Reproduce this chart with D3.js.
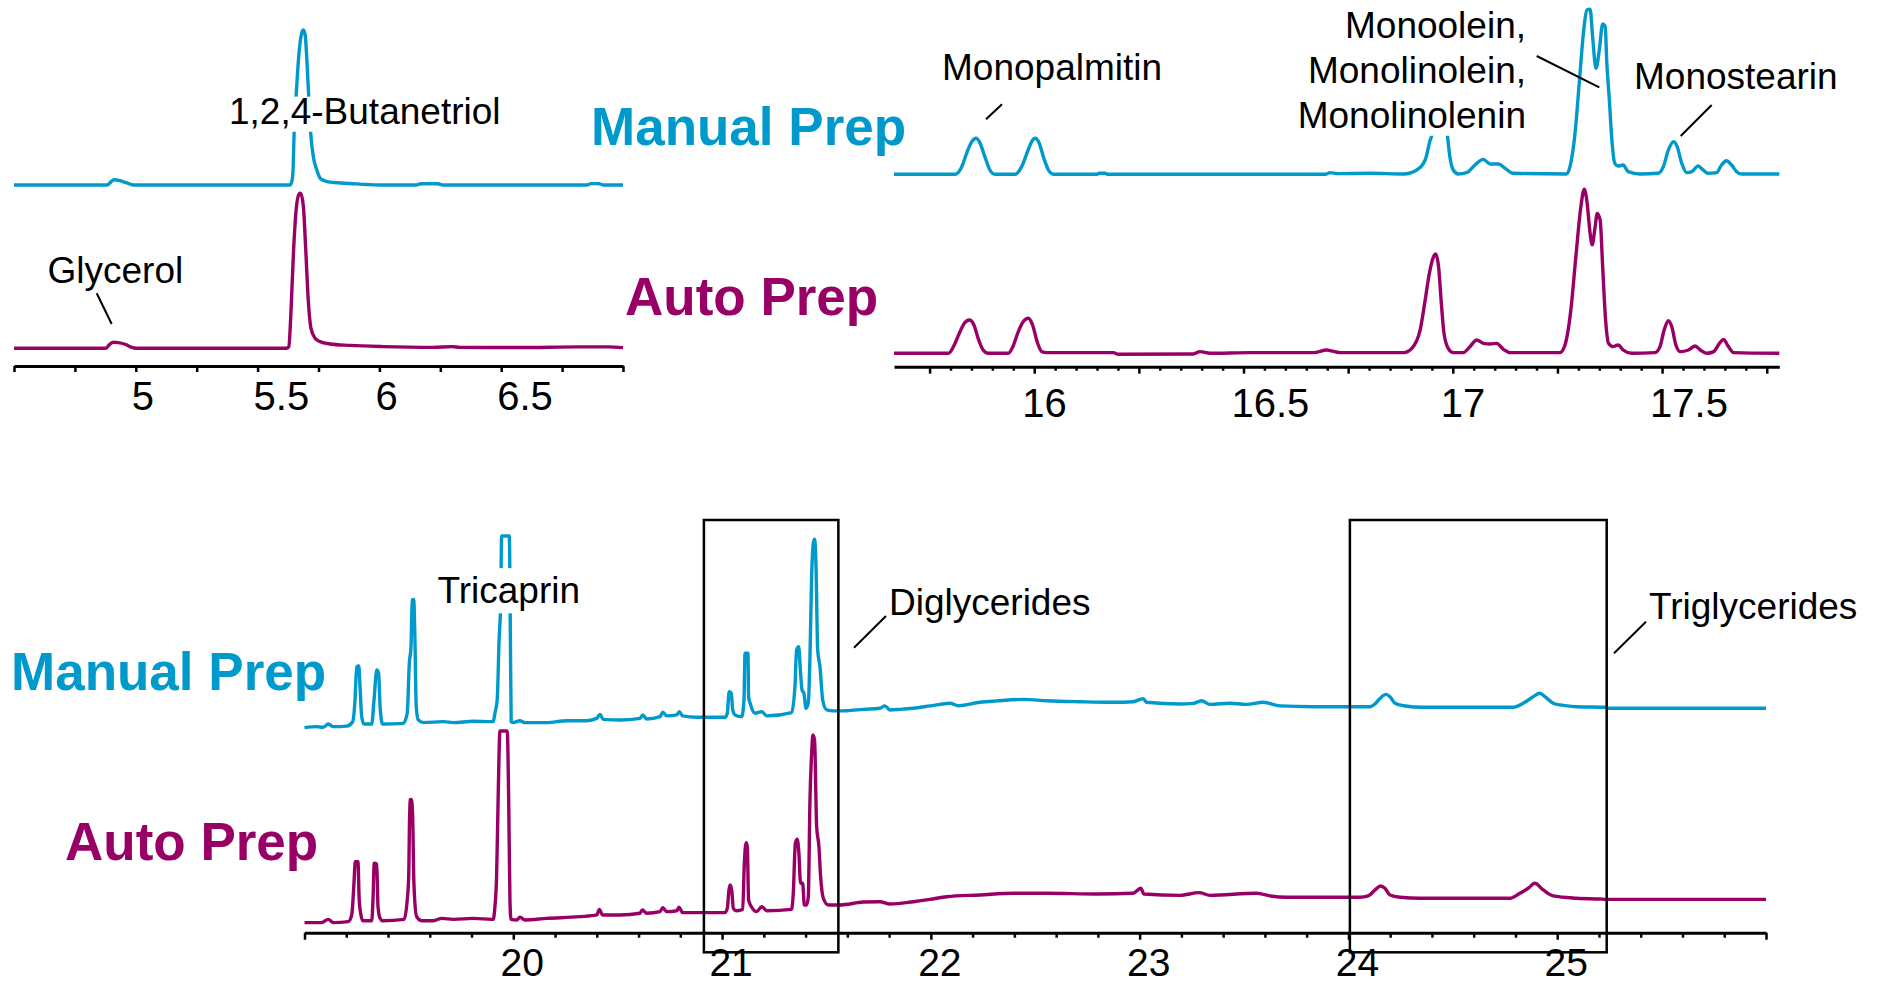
<!DOCTYPE html>
<html>
<head>
<meta charset="utf-8">
<script src="https://cdn.jsdelivr.net/npm/d3@7"></script>
<style>
  html, body { margin: 0; padding: 0; background: #fff; }
  svg { display: block; font-family: "Liberation Sans", Arial, Helvetica, sans-serif; }
</style>
</head>
<body>
<svg id="chart" width="1879" height="985"></svg>
<script>
// ---------------------------------------------------------------
// GC-FID traces: [retention time (min), relative response (0-100)]
// ---------------------------------------------------------------

// Glycerol / 1,2,4-butanetriol window
const manualEarly = [
  [4.50, 0], [4.883, 0], [4.897, 1.9], [4.910, 3.4], [4.935, 2.8], [4.963, 1.3], [4.990, 0],
  [5.632, 0], [5.640, 2], [5.645, 8], [5.650, 34], [5.658, 57], [5.670, 85], [5.681, 98],
  [5.688, 100], [5.695, 97], [5.708, 63], [5.718, 33.5], [5.729, 18], [5.743, 9.7],
  [5.756, 4.5], [5.777, 2.6], [5.811, 1.6], [5.879, 1.0], [5.948, 0.3], [6.00, 0],
  [6.15, 0], [6.17, 0.8], [6.24, 0.8], [6.26, 0], [6.85, 0], [6.87, 0.9], [6.90, 0.9],
  [6.92, 0], [7.00, 0]
];
const autoEarly = [
  [4.50, 0], [4.878, 0], [4.890, 2.2], [4.908, 3.9], [4.928, 3.7], [4.956, 2.6], [4.983, 0.6],
  [5.000, 0], [5.619, 0], [5.628, 1], [5.636, 20], [5.647, 61], [5.658, 89], [5.670, 99.4],
  [5.677, 100], [5.688, 91.4], [5.697, 65.6], [5.708, 31], [5.719, 13], [5.736, 6.5],
  [5.756, 4.3], [5.797, 2.8], [5.879, 1.9], [6.015, 1.1], [6.22, 0.6], [6.30, 1.1],
  [6.33, 0.6], [6.577, 0.5], [6.82, 0.9], [6.94, 0.9], [7.00, 0.4]
];

// Monoglyceride window
const manualMono = [
  [15.665, 0], [15.811, 0], [15.827, 4.6], [15.840, 13.7], [15.851, 19.7], [15.861, 21.7],
  [15.870, 19.1], [15.882, 10.6], [15.894, 2.6], [15.906, 0], [15.954, 0], [15.970, 4.6],
  [15.984, 13.7], [15.994, 19.7], [16.002, 21.7], [16.012, 18.7], [16.023, 9.6], [16.034, 2.6],
  [16.046, 0], [16.150, 0], [16.155, 0.6], [16.170, 0.6], [16.175, 0], [16.695, 0],
  [16.707, 1.0], [16.725, 0.4], [16.802, 0.6], [16.882, 0.2], [16.914, 2.6], [16.934, 8.6],
  [16.946, 20.7], [16.950, 23.7], [16.958, 45], [16.968, 58], [16.978, 45], [16.987, 23.7],
  [16.993, 10.6], [17.001, 2.6], [17.013, 0.2], [17.033, 1.0], [17.053, 5.6], [17.073, 9.0],
  [17.089, 6.2], [17.109, 6.2], [17.125, 3.6], [17.144, 0.6], [17.272, 0.2], [17.280, 4.6],
  [17.292, 24.7], [17.302, 54.8], [17.312, 84.9], [17.320, 99], [17.328, 99.4], [17.334, 82.9],
  [17.342, 63.9], [17.350, 74.9], [17.358, 90.6], [17.364, 89], [17.368, 66.9], [17.374, 44.8],
  [17.380, 20.7], [17.387, 6.6], [17.395, 5], [17.407, 5.6], [17.419, 1.6], [17.447, 0.2],
  [17.491, 0.6], [17.503, 4.6], [17.515, 14.7], [17.528, 19.7], [17.536, 16.7], [17.547, 6.6],
  [17.559, 1.0], [17.571, 1.6], [17.586, 5.0], [17.598, 2.6], [17.610, 0.6], [17.630, 1.0],
  [17.642, 5.6], [17.654, 8.2], [17.666, 5.6], [17.678, 1.6], [17.690, 0.2], [17.780, 0.2]
];
const autoMono = [
  [15.665, 0], [15.795, 0], [15.807, 4.0], [15.821, 12.0], [15.833, 18.1], [15.845, 20.1],
  [15.856, 17.1], [15.866, 9.0], [15.878, 2.0], [15.890, 0], [15.938, 0], [15.949, 4.0],
  [15.962, 13.1], [15.974, 19.1], [15.986, 21.1], [15.996, 17.1], [16.007, 7.0], [16.018, 1.0],
  [16.030, 0.4], [16.189, 0.4], [16.201, -0.6], [16.380, -0.4], [16.396, 1.0], [16.420, 0],
  [16.516, 0.4], [16.667, 0.4], [16.699, 2.0], [16.707, 1.6], [16.731, 0.4], [16.882, 0.4],
  [16.902, 3.0], [16.922, 14.1], [16.934, 32.1], [16.944, 48.2], [16.954, 58.2], [16.959, 59.8],
  [16.966, 52.2], [16.972, 32.1], [16.979, 12.0], [16.989, 3.0], [17.001, 0.4], [17.025, 0.4],
  [17.041, 4.0], [17.057, 8.0], [17.073, 6.0], [17.089, 5.6], [17.105, 6.0], [17.121, 2.4],
  [17.137, 0.4], [17.256, 0.4], [17.268, 5.0], [17.282, 26.1], [17.294, 58.2], [17.306, 88.4],
  [17.314, 98.8], [17.320, 92.4], [17.328, 72.3], [17.333, 65.3], [17.340, 76.3], [17.345, 84.3],
  [17.352, 80.3], [17.358, 52.2], [17.365, 20.1], [17.372, 6.0], [17.383, 4.0], [17.395, 5.0],
  [17.407, 2.0], [17.427, 0], [17.483, 0.4], [17.495, 4.0], [17.505, 14.1], [17.515, 19.7],
  [17.523, 16.1], [17.533, 5.0], [17.543, 1.0], [17.563, 2.0], [17.579, 4.4], [17.591, 2.0],
  [17.607, 0], [17.623, 1.0], [17.637, 6.0], [17.647, 8.4], [17.656, 5.0], [17.671, 0.4],
  [17.780, 0]
];

// Tricaprin / di- and triglyceride window
const manualLate = [
  [19.000, 0.2], [19.058, 0.7], [19.090, 0.4], [19.114, 2.1], [19.138, 0.7], [19.202, 1.0],
  [19.231, 3.3], [19.242, 14.6], [19.250, 31.9], [19.260, 32.3], [19.266, 21.5], [19.274, 5.9],
  [19.285, 2.1], [19.322, 2.1], [19.333, 14.6], [19.346, 30.2], [19.355, 28.5], [19.362, 11.1],
  [19.374, 2.1], [19.473, 2.4], [19.492, 7.7], [19.502, 33.7], [19.510, 42.1], [19.516, 66.7],
  [19.523, 67.0], [19.529, 45.8], [19.535, 11.1], [19.545, 4.2], [19.569, 2.8], [19.665, 3.3],
  [19.713, 2.8], [19.808, 3.5], [19.888, 3.3], [19.904, 3.3], [19.912, 7.7], [19.923, 14.6],
  [19.932, 45.8], [19.940, 66.7], [19.944, 100], [19.981, 100], [19.986, 49.3], [19.990, 3.3],
  [20.000, 2.8], [20.032, 3.8], [20.056, 2.8], [20.160, 2.8], [20.256, 3.8], [20.352, 3.8],
  [20.400, 5.0], [20.415, 7.1], [20.431, 4.5], [20.511, 4.2], [20.607, 5.0], [20.620, 6.8],
  [20.639, 4.7], [20.703, 5.9], [20.716, 8.2], [20.735, 6.3], [20.783, 6.8], [20.795, 8.5],
  [20.811, 6.3], [20.878, 5.6], [21.014, 5.6], [21.025, 7.7], [21.034, 18.9], [21.044, 18.1],
  [21.051, 9.4], [21.062, 6.8], [21.094, 5.9], [21.105, 14.6], [21.110, 38.9], [21.124, 38.9],
  [21.127, 16.3], [21.137, 12.0], [21.158, 7.7], [21.190, 8.5], [21.214, 6.3], [21.333, 8.0],
  [21.349, 21.5], [21.357, 40.6], [21.367, 42.3], [21.376, 28.5], [21.383, 19.8], [21.392, 18.1],
  [21.402, 10.3], [21.413, 12.9], [21.421, 37.1], [21.429, 78.8], [21.437, 96.2], [21.443, 98.3],
  [21.450, 84.0], [21.458, 40.6], [21.469, 31.9], [21.482, 14.6], [21.501, 9.4], [21.533, 8.9],
  [21.597, 9.0], [21.676, 9.7], [21.756, 10.3], [21.780, 11.5], [21.804, 9.4], [21.852, 9.7],
  [21.916, 10.3], [21.996, 11.5], [22.092, 12.9], [22.131, 11.6], [22.235, 13.4], [22.315, 14.1],
  [22.443, 14.9], [22.555, 14.2], [22.714, 13.7], [22.874, 13.4], [22.969, 13.7], [23.017, 15.3],
  [23.033, 13.4], [23.193, 12.5], [23.257, 12.8], [23.297, 14.2], [23.337, 12.3], [23.432, 12.9],
  [23.512, 12.3], [23.592, 13.4], [23.672, 11.5], [23.831, 11.1], [24.103, 11.1], [24.127, 12.5],
  [24.151, 15.4], [24.180, 17.5], [24.199, 16.3], [24.223, 12.9], [24.265, 11.6], [24.358, 10.8],
  [24.789, 10.8], [24.837, 12.9], [24.885, 16.3], [24.917, 18.1], [24.941, 16.3], [24.981, 12.9],
  [25.013, 12.0], [25.093, 11.1], [25.228, 10.8], [25.244, 10.3], [26.000, 10.3]
];
const autoLate = [
  [19.000, 0.2], [19.082, 0.2], [19.114, 1.9], [19.138, 0.2], [19.210, 0.7], [19.226, 4.2],
  [19.237, 20.7], [19.243, 31.9], [19.256, 31.9], [19.262, 12.0], [19.269, 5.1], [19.279, 1.2],
  [19.322, 1.2], [19.328, 12.0], [19.334, 31.1], [19.346, 30.7], [19.352, 8.5], [19.362, 2.4],
  [19.374, 1.2], [19.477, 1.9], [19.492, 12.0], [19.499, 24.1], [19.505, 64.1], [19.512, 64.4],
  [19.518, 55.4], [19.524, 20.7], [19.537, 3.3], [19.561, 1.2], [19.617, 1.2], [19.657, 2.4],
  [19.713, 1.9], [19.808, 2.4], [19.897, 1.9], [19.904, 1.9], [19.912, 8.5], [19.920, 24.1],
  [19.928, 67.6], [19.936, 100], [19.971, 100], [19.978, 64.1], [19.984, 12.0], [19.989, 1.9],
  [20.016, 1.6], [20.032, 3.0], [20.056, 1.6], [20.160, 2.4], [20.319, 3.3], [20.400, 4.2],
  [20.412, 7.1], [20.428, 4.2], [20.511, 4.2], [20.607, 5.1], [20.618, 6.8], [20.639, 5.1],
  [20.703, 5.9], [20.716, 8.0], [20.735, 5.9], [20.783, 6.4], [20.794, 8.2], [20.811, 5.4],
  [21.014, 5.4], [21.025, 7.6], [21.033, 17.2], [21.039, 19.8], [21.047, 16.3], [21.054, 7.6],
  [21.070, 6.4], [21.099, 7.1], [21.106, 29.3], [21.115, 41.8], [21.121, 39.7], [21.127, 12.0],
  [21.142, 8.2], [21.166, 5.9], [21.190, 8.5], [21.214, 6.4], [21.333, 7.1], [21.341, 15.5],
  [21.351, 41.5], [21.360, 43.6], [21.368, 36.3], [21.376, 20.7], [21.386, 20.7], [21.394, 9.4],
  [21.405, 9.4], [21.413, 13.7], [21.421, 64.1], [21.429, 88.4], [21.435, 97.9], [21.443, 95.3],
  [21.453, 50.2], [21.464, 39.7], [21.472, 24.1], [21.485, 12.9], [21.509, 9.4], [21.565, 9.4],
  [21.676, 10.9], [21.756, 11.1], [21.804, 9.9], [21.916, 11.1], [21.996, 12.3], [22.076, 13.7],
  [22.235, 14.6], [22.395, 15.5], [22.555, 15.5], [22.794, 15.1], [22.969, 15.5], [23.005, 18.1],
  [23.021, 15.1], [23.193, 14.4], [23.285, 15.8], [23.337, 14.4], [23.560, 15.5], [23.624, 14.1],
  [23.704, 13.4], [24.055, 13.4], [24.095, 14.1], [24.127, 17.2], [24.154, 19.3], [24.175, 18.1],
  [24.199, 14.6], [24.247, 13.4], [24.343, 12.9], [24.774, 12.9], [24.821, 15.5], [24.861, 18.1],
  [24.893, 20.7], [24.933, 17.2], [24.981, 14.1], [25.093, 12.9], [25.205, 12.5], [25.237, 12.3],
  [26.000, 12.3]
];

// Axis tick labels (min)
const labelsEarly = [5, 5.5, 6, 6.5];
const labelsMono = [16, 16.5, 17, 17.5];
const labelsLate = [20, 21, 22, 23, 24, 25];

// Retention-time windows boxed in the late chromatogram
const windowNames = ["Diglycerides", "Triglycerides"];
const windowStart = [20.913, 24.007];
const windowEnd = [21.557, 25.237];

const seriesNames = ["Manual Prep", "Auto Prep"];

// ---------------------------------------------------------------
// Layout
// ---------------------------------------------------------------
const colors = { manual: "#0099cc", auto: "#990066" };

const svg = d3.select("#chart");
const gTraces = svg.append("g");
const gBoxes = svg.append("g");
const gAxes = svg.append("g");
const gText = svg.append("g");

function steps(a, b, step) {
  const n = Math.round((b - a) / step);
  return d3.range(n + 1).map(i => +(a + i * step).toFixed(4));
}

const panels = [
  {
    domain: [4.5, 7.0], range: [14, 623], axisY: 366,
    zero: { manual: 185, auto: 348.3 }, height: 155,
    data: { manual: manualEarly, auto: autoEarly },
    ticks: steps(4.5, 7.0, 0.25), major: v => true, majorLen: 6, minorLen: 6,
    labels: labelsEarly, labelAnchor: "start", labelDx: -4, labelY: 410, labelSize: 40
  },
  {
    domain: [15.665, 17.78], range: [894, 1779.3], axisY: 366.7,
    zero: { manual: 174.3, auto: 353.3 }, height: 166,
    data: { manual: manualMono, auto: autoMono },
    ticks: steps(15.75, 17.75, 0.05), major: v => Math.abs(v * 4 - Math.round(v * 4)) < 1e-6,
    majorLen: 7, minorLen: 4,
    labels: labelsMono, labelAnchor: "start", labelDx: -12, labelY: 417, labelSize: 40
  },
  {
    domain: [19, 26], range: [304.5, 1766], axisY: 932.7,
    zero: { manual: 728, auto: 923 }, height: 192,
    data: { manual: manualLate, auto: autoLate },
    ticks: steps(19, 26, 0.2), major: v => Math.abs(v - Math.round(v)) < 1e-6,
    majorLen: 7, minorLen: 5,
    labels: labelsLate, labelAnchor: "middle", labelDx: 9, labelY: 976, labelSize: 39
  }
];

panels.forEach(p => {
  p.x = d3.scaleLinear().domain(p.domain).range(p.range);

  ["manual", "auto"].forEach(key => {
    const y = d3.scaleLinear().domain([0, 100]).range([p.zero[key], p.zero[key] - p.height]);
    const line = d3.line()
      .x(d => p.x(d[0]))
      .y(d => y(d[1]))
      .curve(d3.curveMonotoneX);
    gTraces.append("path")
      .datum(p.data[key])
      .attr("d", line)
      .attr("fill", "none")
      .attr("stroke", colors[key])
      .attr("stroke-width", 3.4)
      .attr("stroke-linejoin", "round")
      .attr("stroke-linecap", "butt");
  });

  const axis = d3.axisBottom(p.x)
    .tickValues(p.ticks)
    .tickFormat("")
    .tickSizeOuter(0)
    .tickSizeInner(p.majorLen);
  const ga = gAxes.append("g")
    .attr("transform", `translate(0,${p.axisY})`)
    .call(axis);
  ga.select(".domain").attr("stroke", "#000").attr("stroke-width", 3);
  ga.selectAll(".tick line")
    .attr("stroke", "#000")
    .attr("stroke-width", 2.5)
    .attr("y2", d => p.major(d) ? p.majorLen : p.minorLen);

  gAxes.append("g").selectAll("text")
    .data(p.labels)
    .join("text")
    .attr("x", d => p.x(d) + p.labelDx)
    .attr("y", p.labelY)
    .attr("text-anchor", p.labelAnchor)
    .attr("font-size", p.labelSize)
    .attr("fill", "#000")
    .text(d => String(d));
});

// Boxed retention windows in the late chromatogram
const late = panels[2];
gBoxes.selectAll("rect")
  .data(windowNames.map((n, i) => ({ name: n, from: windowStart[i], to: windowEnd[i] })))
  .join("rect")
  .attr("x", d => late.x(d.from))
  .attr("y", 520)
  .attr("width", d => late.x(d.to) - late.x(d.from))
  .attr("height", 432.3)
  .attr("fill", "none")
  .attr("stroke", "#000")
  .attr("stroke-width", 2.5);

// Series titles
const titleLayout = [
  { text: seriesNames[0], key: "manual", x: 591, y: 145 },
  { text: seriesNames[1], key: "auto", x: 625, y: 315 },
  { text: seriesNames[0], key: "manual", x: 11, y: 689.5 },
  { text: seriesNames[1], key: "auto", x: 65, y: 860 }
];
gText.selectAll("text.title")
  .data(titleLayout)
  .join("text")
  .attr("class", "title")
  .attr("x", d => d.x)
  .attr("y", d => d.y)
  .attr("font-size", 53)
  .attr("font-weight", "bold")
  .attr("fill", d => colors[d.key])
  .text(d => d.text);

// Peak annotations (some sit on a white plate that masks the trace behind them)
const annotationLayout = [
  { lines: ["1,2,4-Butanetriol"], x: 229, y: 124, anchor: "start", plate: [0.74, 0.21] },
  { lines: ["Glycerol"], x: 47.5, y: 282.7, anchor: "start" },
  { lines: ["Monopalmitin"], x: 942, y: 80, anchor: "start" },
  { lines: ["Monoolein,", "Monolinolein,", "Monolinolenin"], x: 1526, y: 38, dy: 45, anchor: "end", plate: [0.9, 0.21] },
  { lines: ["Monostearin"], x: 1634, y: 89.3, anchor: "start" },
  { lines: ["Tricaprin"], x: 437.5, y: 603.3, anchor: "start", plate: [0.95, 0.27] },
  { lines: [windowNames[0]], x: 889, y: 615, anchor: "start" },
  { lines: [windowNames[1]], x: 1649, y: 619, anchor: "start" }
];
const fs = 37;
annotationLayout.forEach(a => {
  const g = gText.append("g");
  const plate = g.append("rect").attr("fill", "#fff");
  const t = g.append("text")
    .attr("font-size", fs)
    .attr("fill", "#000")
    .attr("text-anchor", a.anchor);
  a.lines.forEach((ln, i) => {
    t.append("tspan")
      .attr("x", a.x)
      .attr("y", a.y + i * (a.dy || 0))
      .text(ln);
  });
  if (a.plate) {
    const bb = t.node().getBBox();
    const top = a.y - a.plate[0] * fs;
    const bottom = a.y + (a.lines.length - 1) * (a.dy || 0) + a.plate[1] * fs;
    plate.attr("x", bb.x - 2).attr("width", bb.width + 4)
      .attr("y", top).attr("height", bottom - top);
  } else {
    plate.remove();
  }
});

// Leader lines from labels to peaks
const leaders = [
  [[96.7, 293.3], [111.7, 324]],
  [[986, 119.3], [1002, 104.3]],
  [[1536.7, 56], [1599.3, 87.3]],
  [[1711.7, 105], [1680.7, 136]],
  [[854, 647.7], [886, 616]],
  [[1614, 653.3], [1646, 621.7]]
];
gText.selectAll("line.leader")
  .data(leaders)
  .join("line")
  .attr("class", "leader")
  .attr("x1", d => d[0][0]).attr("y1", d => d[0][1])
  .attr("x2", d => d[1][0]).attr("y2", d => d[1][1])
  .attr("stroke", "#000")
  .attr("stroke-width", 2);
</script>
</body>
</html>
